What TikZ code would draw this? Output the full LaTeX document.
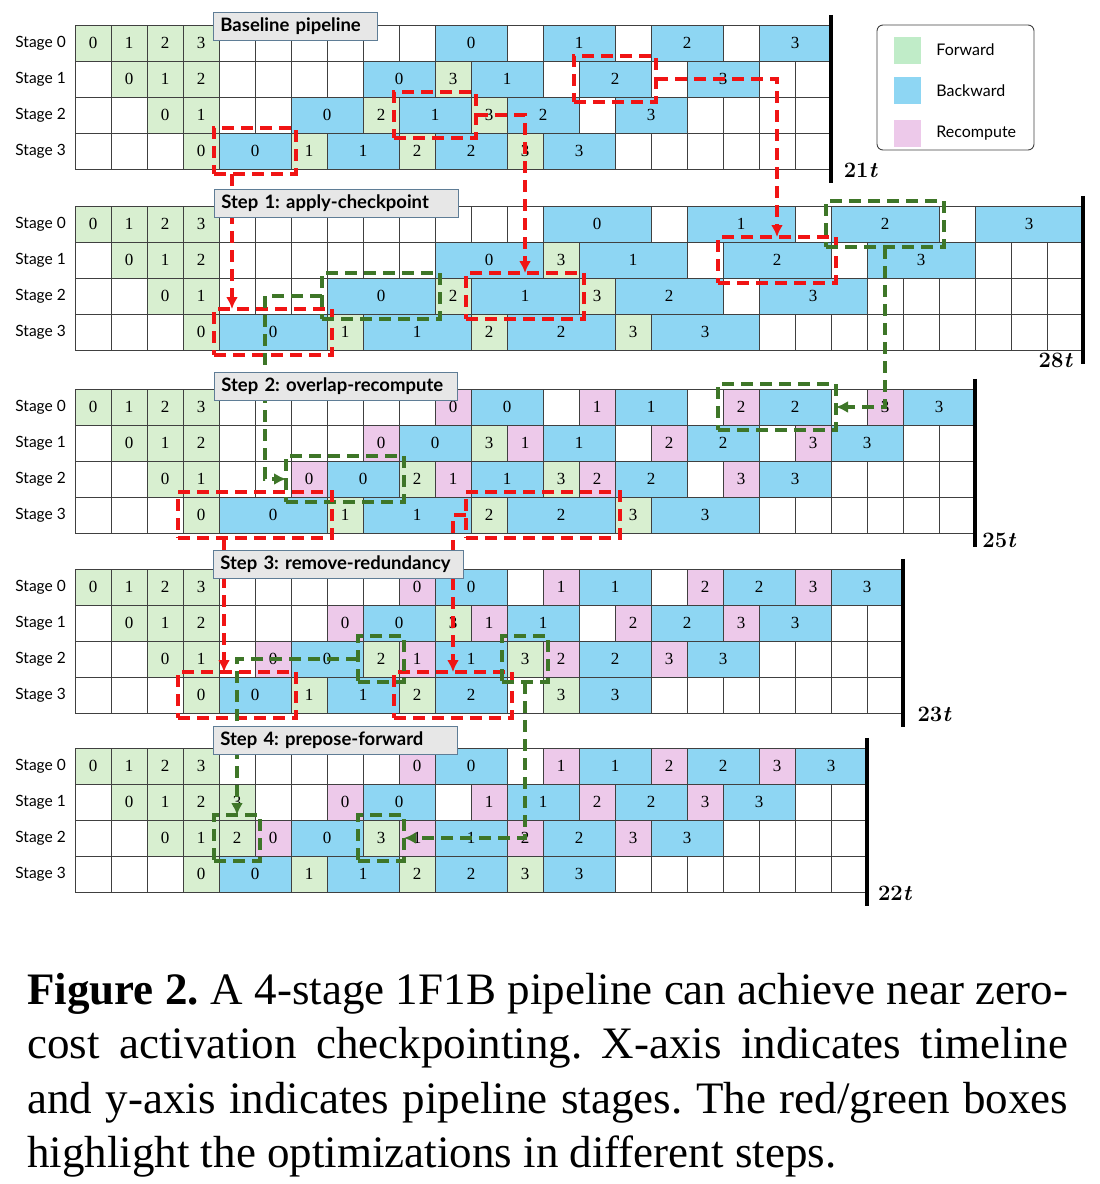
\documentclass[tikz,border=0pt]{standalone}
\usepackage{fontspec}
\setsansfont{Lato}
\newfontfamily\numfont{Liberation Serif}
\usetikzlibrary{arrows.meta,positioning,fit}
\frenchspacing

\definecolor{fwdgreen}{RGB}{216,239,208}
\definecolor{bwdblue}{RGB}{142,214,243}
\definecolor{rcppink}{RGB}{237,201,234}
\definecolor{legfwd}{RGB}{192,236,200}
\definecolor{gridgray}{RGB}{64,64,64}
\definecolor{titlegray}{RGB}{231,231,231}
\definecolor{titleedge}{RGB}{95,125,150}
\definecolor{dashred}{RGB}{240,20,20}
\definecolor{dashgreen}{RGB}{62,118,40}

\begin{document}
\begin{tikzpicture}[
  font=\sffamily,
  x=1pt, y=-1pt,
  cell/.style={draw=gridgray, line width=0.8pt, step=36pt},
  fwd/.style={draw=gridgray, line width=0.8pt, fill=fwdgreen, minimum width=36pt, minimum height=36pt, inner sep=0pt, outer sep=0pt, font=\numfont\fontsize{17}{19}\selectfont},
  bwd/.style={fwd, fill=bwdblue, minimum width=72pt},
  bwdck/.style={fwd, fill=bwdblue, minimum width=108pt},
  rcp/.style={fwd, fill=rcppink},
  stagelbl/.style={anchor=east, inner sep=0pt, font=\sffamily\fontsize{15.5}{18}\selectfont},
  title/.style={draw=titleedge, fill=titlegray, line width=0.8pt, anchor=west, minimum height=28pt, inner xsep=7pt, inner ysep=0pt, align=left, font=\sffamily\bfseries\fontsize{18.5}{21}\selectfont},
  redbox/.style={draw=dashred, line width=3.3pt, dash pattern=on 12pt off 7pt, inner sep=5pt, outer sep=0pt},
  grnbox/.style={redbox, draw=dashgreen},
  redarrow/.style={draw=dashred, line width=3.3pt, dash pattern=on 12pt off 7pt, -{Latex[length=12pt,width=12pt]}},
  grnarrow/.style={redarrow, draw=dashgreen},
  endbar/.style={line width=3.6pt},
  total/.style={inner sep=0pt, font=\rmfamily\bfseries\fontsize{22}{24}\selectfont},
  legbox/.style={draw=gridgray, line width=0.9pt, rounded corners=6pt, minimum width=157pt, minimum height=125pt},
  legkey/.style={minimum width=27pt, minimum height=27pt, inner sep=0pt},
  legtext/.style={inner sep=0pt, font=\sffamily\fontsize{16}{18}\selectfont}
]
\useasboundingbox (0,0) rectangle (1100,1184);

% baseline pipeline
\begin{scope}[x=36pt, y=-36pt, shift={(75pt,-25pt)}]
  \draw[cell] (0,0) grid (21,4);
  \node[stagelbl] (bl-l0) at (-0.25,0.5) {Stage 0};
  \node[stagelbl] (bl-l1) at (-0.25,1.5) {Stage 1};
  \node[stagelbl] (bl-l2) at (-0.25,2.5) {Stage 2};
  \node[stagelbl] (bl-l3) at (-0.25,3.5) {Stage 3};

  \node[fwd] (bl-s0-f0) at (0.5,0.5) {0};
  \node[fwd] (bl-s0-f1) at (1.5,0.5) {1};
  \node[fwd] (bl-s0-f2) at (2.5,0.5) {2};
  \node[fwd] (bl-s0-f3) at (3.5,0.5) {3};
  \node[bwd] (bl-s0-b0) at (11,0.5) {0};
  \node[bwd] (bl-s0-b1) at (14,0.5) {1};
  \node[bwd] (bl-s0-b2) at (17,0.5) {2};
  \node[bwd] (bl-s0-b3) at (20,0.5) {3};

  \node[fwd] (bl-s1-f0) at (1.5,1.5) {0};
  \node[fwd] (bl-s1-f1) at (2.5,1.5) {1};
  \node[fwd] (bl-s1-f2) at (3.5,1.5) {2};
  \node[bwd] (bl-s1-b0) at (9,1.5) {0};
  \node[fwd] (bl-s1-f3) at (10.5,1.5) {3};
  \node[bwd] (bl-s1-b1) at (12,1.5) {1};
  \node[bwd] (bl-s1-b2) at (15,1.5) {2};
  \node[bwd] (bl-s1-b3) at (18,1.5) {3};

  \node[fwd] (bl-s2-f0) at (2.5,2.5) {0};
  \node[fwd] (bl-s2-f1) at (3.5,2.5) {1};
  \node[bwd] (bl-s2-b0) at (7,2.5) {0};
  \node[fwd] (bl-s2-f2) at (8.5,2.5) {2};
  \node[bwd] (bl-s2-b1) at (10,2.5) {1};
  \node[fwd] (bl-s2-f3) at (11.5,2.5) {3};
  \node[bwd] (bl-s2-b2) at (13,2.5) {2};
  \node[bwd] (bl-s2-b3) at (16,2.5) {3};

  \node[fwd] (bl-s3-f0) at (3.5,3.5) {0};
  \node[bwd] (bl-s3-b0) at (5,3.5) {0};
  \node[fwd] (bl-s3-f1) at (6.5,3.5) {1};
  \node[bwd] (bl-s3-b1) at (8,3.5) {1};
  \node[fwd] (bl-s3-f2) at (9.5,3.5) {2};
  \node[bwd] (bl-s3-b2) at (11,3.5) {2};
  \node[fwd] (bl-s3-f3) at (12.5,3.5) {3};
  \node[bwd] (bl-s3-b3) at (14,3.5) {3};

  \draw[endbar] (21,-0.28) -- (21,4.4);
  \node[total, anchor=west] (bl-total) at (21.35,4.05) {21\textit{t}};
\end{scope}

% step 1: apply-checkpoint
\begin{scope}[x=36pt, y=-36pt, shift={(75pt,-206pt)}]
  \draw[cell] (0,0) grid (28,4);
  \node[stagelbl] (ck-l0) at (-0.25,0.5) {Stage 0};
  \node[stagelbl] (ck-l1) at (-0.25,1.5) {Stage 1};
  \node[stagelbl] (ck-l2) at (-0.25,2.5) {Stage 2};
  \node[stagelbl] (ck-l3) at (-0.25,3.5) {Stage 3};

  \node[fwd] (ck-s0-f0) at (0.5,0.5) {0};
  \node[fwd] (ck-s0-f1) at (1.5,0.5) {1};
  \node[fwd] (ck-s0-f2) at (2.5,0.5) {2};
  \node[fwd] (ck-s0-f3) at (3.5,0.5) {3};
  \node[bwdck] (ck-s0-b0) at (14.5,0.5) {0};
  \node[bwdck] (ck-s0-b1) at (18.5,0.5) {1};
  \node[bwdck] (ck-s0-b2) at (22.5,0.5) {2};
  \node[bwdck] (ck-s0-b3) at (26.5,0.5) {3};

  \node[fwd] (ck-s1-f0) at (1.5,1.5) {0};
  \node[fwd] (ck-s1-f1) at (2.5,1.5) {1};
  \node[fwd] (ck-s1-f2) at (3.5,1.5) {2};
  \node[bwdck] (ck-s1-b0) at (11.5,1.5) {0};
  \node[fwd] (ck-s1-f3) at (13.5,1.5) {3};
  \node[bwdck] (ck-s1-b1) at (15.5,1.5) {1};
  \node[bwdck] (ck-s1-b2) at (19.5,1.5) {2};
  \node[bwdck] (ck-s1-b3) at (23.5,1.5) {3};

  \node[fwd] (ck-s2-f0) at (2.5,2.5) {0};
  \node[fwd] (ck-s2-f1) at (3.5,2.5) {1};
  \node[bwdck] (ck-s2-b0) at (8.5,2.5) {0};
  \node[fwd] (ck-s2-f2) at (10.5,2.5) {2};
  \node[bwdck] (ck-s2-b1) at (12.5,2.5) {1};
  \node[fwd] (ck-s2-f3) at (14.5,2.5) {3};
  \node[bwdck] (ck-s2-b2) at (16.5,2.5) {2};
  \node[bwdck] (ck-s2-b3) at (20.5,2.5) {3};

  \node[fwd] (ck-s3-f0) at (3.5,3.5) {0};
  \node[bwdck] (ck-s3-b0) at (5.5,3.5) {0};
  \node[fwd] (ck-s3-f1) at (7.5,3.5) {1};
  \node[bwdck] (ck-s3-b1) at (9.5,3.5) {1};
  \node[fwd] (ck-s3-f2) at (11.5,3.5) {2};
  \node[bwdck] (ck-s3-b2) at (13.5,3.5) {2};
  \node[fwd] (ck-s3-f3) at (15.5,3.5) {3};
  \node[bwdck] (ck-s3-b3) at (17.5,3.5) {3};

  \draw[endbar] (28,-0.28) -- (28,4.4);
  \node[total, anchor=east] (ck-total) at (27.72,4.3) {28\textit{t}};
\end{scope}

% step 2: overlap-recompute
\begin{scope}[x=36pt, y=-36pt, shift={(75pt,-389pt)}]
  \draw[cell] (0,0) grid (25,4);
  \node[stagelbl] (ov-l0) at (-0.25,0.5) {Stage 0};
  \node[stagelbl] (ov-l1) at (-0.25,1.5) {Stage 1};
  \node[stagelbl] (ov-l2) at (-0.25,2.5) {Stage 2};
  \node[stagelbl] (ov-l3) at (-0.25,3.5) {Stage 3};

  \node[fwd] (ov-s0-f0) at (0.5,0.5) {0};
  \node[fwd] (ov-s0-f1) at (1.5,0.5) {1};
  \node[fwd] (ov-s0-f2) at (2.5,0.5) {2};
  \node[fwd] (ov-s0-f3) at (3.5,0.5) {3};
  \node[rcp] (ov-s0-r0) at (10.5,0.5) {0};
  \node[bwd] (ov-s0-b0) at (12,0.5) {0};
  \node[rcp] (ov-s0-r1) at (14.5,0.5) {1};
  \node[bwd] (ov-s0-b1) at (16,0.5) {1};
  \node[rcp] (ov-s0-r2) at (18.5,0.5) {2};
  \node[bwd] (ov-s0-b2) at (20,0.5) {2};
  \node[rcp] (ov-s0-r3) at (22.5,0.5) {3};
  \node[bwd] (ov-s0-b3) at (24,0.5) {3};

  \node[fwd] (ov-s1-f0) at (1.5,1.5) {0};
  \node[fwd] (ov-s1-f1) at (2.5,1.5) {1};
  \node[fwd] (ov-s1-f2) at (3.5,1.5) {2};
  \node[rcp] (ov-s1-r0) at (8.5,1.5) {0};
  \node[bwd] (ov-s1-b0) at (10,1.5) {0};
  \node[fwd] (ov-s1-f3) at (11.5,1.5) {3};
  \node[rcp] (ov-s1-r1) at (12.5,1.5) {1};
  \node[bwd] (ov-s1-b1) at (14,1.5) {1};
  \node[rcp] (ov-s1-r2) at (16.5,1.5) {2};
  \node[bwd] (ov-s1-b2) at (18,1.5) {2};
  \node[rcp] (ov-s1-r3) at (20.5,1.5) {3};
  \node[bwd] (ov-s1-b3) at (22,1.5) {3};

  \node[fwd] (ov-s2-f0) at (2.5,2.5) {0};
  \node[fwd] (ov-s2-f1) at (3.5,2.5) {1};
  \node[rcp] (ov-s2-r0) at (6.5,2.5) {0};
  \node[bwd] (ov-s2-b0) at (8,2.5) {0};
  \node[fwd] (ov-s2-f2) at (9.5,2.5) {2};
  \node[rcp] (ov-s2-r1) at (10.5,2.5) {1};
  \node[bwd] (ov-s2-b1) at (12,2.5) {1};
  \node[fwd] (ov-s2-f3) at (13.5,2.5) {3};
  \node[rcp] (ov-s2-r2) at (14.5,2.5) {2};
  \node[bwd] (ov-s2-b2) at (16,2.5) {2};
  \node[rcp] (ov-s2-r3) at (18.5,2.5) {3};
  \node[bwd] (ov-s2-b3) at (20,2.5) {3};

  \node[fwd] (ov-s3-f0) at (3.5,3.5) {0};
  \node[bwdck] (ov-s3-b0) at (5.5,3.5) {0};
  \node[fwd] (ov-s3-f1) at (7.5,3.5) {1};
  \node[bwdck] (ov-s3-b1) at (9.5,3.5) {1};
  \node[fwd] (ov-s3-f2) at (11.5,3.5) {2};
  \node[bwdck] (ov-s3-b2) at (13.5,3.5) {2};
  \node[fwd] (ov-s3-f3) at (15.5,3.5) {3};
  \node[bwdck] (ov-s3-b3) at (17.5,3.5) {3};

  \draw[endbar] (25,-0.28) -- (25,4.4);
  \node[total, anchor=west] (ov-total) at (25.2,4.2) {25\textit{t}};
\end{scope}

% step 3: remove-redundancy
\begin{scope}[x=36pt, y=-36pt, shift={(75pt,-569pt)}]
  \draw[cell] (0,0) grid (23,4);
  \node[stagelbl] (rr-l0) at (-0.25,0.5) {Stage 0};
  \node[stagelbl] (rr-l1) at (-0.25,1.5) {Stage 1};
  \node[stagelbl] (rr-l2) at (-0.25,2.5) {Stage 2};
  \node[stagelbl] (rr-l3) at (-0.25,3.5) {Stage 3};

  \node[fwd] (rr-s0-f0) at (0.5,0.5) {0};
  \node[fwd] (rr-s0-f1) at (1.5,0.5) {1};
  \node[fwd] (rr-s0-f2) at (2.5,0.5) {2};
  \node[fwd] (rr-s0-f3) at (3.5,0.5) {3};
  \node[rcp] (rr-s0-r0) at (9.5,0.5) {0};
  \node[bwd] (rr-s0-b0) at (11,0.5) {0};
  \node[rcp] (rr-s0-r1) at (13.5,0.5) {1};
  \node[bwd] (rr-s0-b1) at (15,0.5) {1};
  \node[rcp] (rr-s0-r2) at (17.5,0.5) {2};
  \node[bwd] (rr-s0-b2) at (19,0.5) {2};
  \node[rcp] (rr-s0-r3) at (20.5,0.5) {3};
  \node[bwd] (rr-s0-b3) at (22,0.5) {3};

  \node[fwd] (rr-s1-f0) at (1.5,1.5) {0};
  \node[fwd] (rr-s1-f1) at (2.5,1.5) {1};
  \node[fwd] (rr-s1-f2) at (3.5,1.5) {2};
  \node[rcp] (rr-s1-r0) at (7.5,1.5) {0};
  \node[bwd] (rr-s1-b0) at (9,1.5) {0};
  \node[fwd] (rr-s1-f3) at (10.5,1.5) {3};
  \node[rcp] (rr-s1-r1) at (11.5,1.5) {1};
  \node[bwd] (rr-s1-b1) at (13,1.5) {1};
  \node[rcp] (rr-s1-r2) at (15.5,1.5) {2};
  \node[bwd] (rr-s1-b2) at (17,1.5) {2};
  \node[rcp] (rr-s1-r3) at (18.5,1.5) {3};
  \node[bwd] (rr-s1-b3) at (20,1.5) {3};

  \node[fwd] (rr-s2-f0) at (2.5,2.5) {0};
  \node[fwd] (rr-s2-f1) at (3.5,2.5) {1};
  \node[rcp] (rr-s2-r0) at (5.5,2.5) {0};
  \node[bwd] (rr-s2-b0) at (7,2.5) {0};
  \node[fwd] (rr-s2-f2) at (8.5,2.5) {2};
  \node[rcp] (rr-s2-r1) at (9.5,2.5) {1};
  \node[bwd] (rr-s2-b1) at (11,2.5) {1};
  \node[fwd] (rr-s2-f3) at (12.5,2.5) {3};
  \node[rcp] (rr-s2-r2) at (13.5,2.5) {2};
  \node[bwd] (rr-s2-b2) at (15,2.5) {2};
  \node[rcp] (rr-s2-r3) at (16.5,2.5) {3};
  \node[bwd] (rr-s2-b3) at (18,2.5) {3};

  \node[fwd] (rr-s3-f0) at (3.5,3.5) {0};
  \node[bwd] (rr-s3-b0) at (5,3.5) {0};
  \node[fwd] (rr-s3-f1) at (6.5,3.5) {1};
  \node[bwd] (rr-s3-b1) at (8,3.5) {1};
  \node[fwd] (rr-s3-f2) at (9.5,3.5) {2};
  \node[bwd] (rr-s3-b2) at (11,3.5) {2};
  \node[fwd] (rr-s3-f3) at (13.5,3.5) {3};
  \node[bwd] (rr-s3-b3) at (15,3.5) {3};

  \draw[endbar] (23,-0.28) -- (23,4.4);
  \node[total, anchor=west] (rr-total) at (23.4,4.05) {23\textit{t}};
\end{scope}

% step 4: prepose-forward
\begin{scope}[x=36pt, y=-36pt, shift={(75pt,-748pt)}]
  \draw[cell] (0,0) grid (22,4);
  \node[stagelbl] (pf-l0) at (-0.25,0.5) {Stage 0};
  \node[stagelbl] (pf-l1) at (-0.25,1.5) {Stage 1};
  \node[stagelbl] (pf-l2) at (-0.25,2.5) {Stage 2};
  \node[stagelbl] (pf-l3) at (-0.25,3.5) {Stage 3};

  \node[fwd] (pf-s0-f0) at (0.5,0.5) {0};
  \node[fwd] (pf-s0-f1) at (1.5,0.5) {1};
  \node[fwd] (pf-s0-f2) at (2.5,0.5) {2};
  \node[fwd] (pf-s0-f3) at (3.5,0.5) {3};
  \node[rcp] (pf-s0-r0) at (9.5,0.5) {0};
  \node[bwd] (pf-s0-b0) at (11,0.5) {0};
  \node[rcp] (pf-s0-r1) at (13.5,0.5) {1};
  \node[bwd] (pf-s0-b1) at (15,0.5) {1};
  \node[rcp] (pf-s0-r2) at (16.5,0.5) {2};
  \node[bwd] (pf-s0-b2) at (18,0.5) {2};
  \node[rcp] (pf-s0-r3) at (19.5,0.5) {3};
  \node[bwd] (pf-s0-b3) at (21,0.5) {3};

  \node[fwd] (pf-s1-f0) at (1.5,1.5) {0};
  \node[fwd] (pf-s1-f1) at (2.5,1.5) {1};
  \node[fwd] (pf-s1-f2) at (3.5,1.5) {2};
  \node[fwd] (pf-s1-f3) at (4.5,1.5) {3};
  \node[rcp] (pf-s1-r0) at (7.5,1.5) {0};
  \node[bwd] (pf-s1-b0) at (9,1.5) {0};
  \node[rcp] (pf-s1-r1) at (11.5,1.5) {1};
  \node[bwd] (pf-s1-b1) at (13,1.5) {1};
  \node[rcp] (pf-s1-r2) at (14.5,1.5) {2};
  \node[bwd] (pf-s1-b2) at (16,1.5) {2};
  \node[rcp] (pf-s1-r3) at (17.5,1.5) {3};
  \node[bwd] (pf-s1-b3) at (19,1.5) {3};

  \node[fwd] (pf-s2-f0) at (2.5,2.5) {0};
  \node[fwd] (pf-s2-f1) at (3.5,2.5) {1};
  \node[fwd] (pf-s2-f2) at (4.5,2.5) {2};
  \node[rcp] (pf-s2-r0) at (5.5,2.5) {0};
  \node[bwd] (pf-s2-b0) at (7,2.5) {0};
  \node[fwd] (pf-s2-f3) at (8.5,2.5) {3};
  \node[rcp] (pf-s2-r1) at (9.5,2.5) {1};
  \node[bwd] (pf-s2-b1) at (11,2.5) {1};
  \node[rcp] (pf-s2-r2) at (12.5,2.5) {2};
  \node[bwd] (pf-s2-b2) at (14,2.5) {2};
  \node[rcp] (pf-s2-r3) at (15.5,2.5) {3};
  \node[bwd] (pf-s2-b3) at (17,2.5) {3};

  \node[fwd] (pf-s3-f0) at (3.5,3.5) {0};
  \node[bwd] (pf-s3-b0) at (5,3.5) {0};
  \node[fwd] (pf-s3-f1) at (6.5,3.5) {1};
  \node[bwd] (pf-s3-b1) at (8,3.5) {1};
  \node[fwd] (pf-s3-f2) at (9.5,3.5) {2};
  \node[bwd] (pf-s3-b2) at (11,3.5) {2};
  \node[fwd] (pf-s3-f3) at (12.5,3.5) {3};
  \node[bwd] (pf-s3-b3) at (14,3.5) {3};

  \draw[endbar] (22,-0.28) -- (22,4.4);
  \node[total, anchor=west] (pf-total) at (22.3,4.05) {22\textit{t}};
\end{scope}

% highlight boxes
\node[redbox, fit=(bl-s3-b0)] (bl-red1) {};
\node[redbox, fit=(bl-s2-b1)] (bl-red2) {};
\node[redbox, fit=(bl-s1-b2)] (bl-red3) {};
\node[redbox, fit=(ck-s3-b0)] (ck-red1) {};
\node[redbox, fit=(ck-s2-b1)] (ck-red2) {};
\node[redbox, fit=(ck-s1-b2)] (ck-red3) {};
\node[grnbox, fit=(ck-s2-b0)] (ck-grn1) {};
\node[grnbox, fit=(ck-s0-b2)] (ck-grn2) {};
\node[grnbox, fit=(ov-s2-r0) (ov-s2-b0)] (ov-grn1) {};
\node[grnbox, fit=(ov-s0-r2) (ov-s0-b2)] (ov-grn2) {};
\node[redbox, fit=(ov-s3-f0) (ov-s3-b0)] (ov-red1) {};
\node[redbox, fit=(ov-s3-f2) (ov-s3-b2)] (ov-red2) {};
\node[redbox, fit=(rr-s3-f0) (rr-s3-b0)] (rr-red1) {};
\node[redbox, fit=(rr-s3-f2) (rr-s3-b2)] (rr-red2) {};
\node[grnbox, fit=(rr-s2-f2)] (rr-grn1) {};
\node[grnbox, fit=(rr-s2-f3)] (rr-grn2) {};
\node[grnbox, fit=(pf-s2-f2)] (pf-grn1) {};
\node[grnbox, fit=(pf-s2-f3)] (pf-grn2) {};

% moves from one step to the next
\coordinate (bl-drop1) at ([xshift=18pt]bl-red1.south west);
\coordinate (ov-drop1) at ([xshift=46pt]ov-red1.south west);
\draw[redarrow] (bl-drop1) -- (bl-drop1 |- ck-red1.north);
\draw[redarrow] (bl-red2.east) -| (ck-red2.north);
\draw[redarrow] (bl-red3.east) -| (ck-red3.north);
\draw[grnarrow] (ck-grn1.west) -- ++(-57pt,0) |- (ov-grn1.west);
\draw[grnarrow] (ck-grn2.south) |- (ov-grn2.east);
\draw[redarrow] (ov-drop1) -- (ov-drop1 |- rr-red1.north);
\draw[redarrow] (ov-red2.west) -| (rr-red2.north);
\draw[grnarrow] (rr-grn1.west) -| (pf-grn1.north);
\draw[grnarrow] (rr-grn2.south) |- (pf-grn2.east);

% step titles
\node[title, text width=150pt] (bl-title) at (213,26.5) {Baseline pipeline};
\node[title, text width=230pt] (ck-title) at (214,203) {Step 1: apply-checkpoint};
\node[title, text width=229pt] (ov-title) at (214,386.5) {Step 2: overlap-recompute};
\node[title, text width=236pt] (rr-title) at (213,564) {Step 3: remove-redundancy};
\node[title, text width=230pt] (pf-title) at (213,740.5) {Step 4: prepose-forward};

% legend
\node[legbox] (legend) at (955.5,87.5) {};
\node[legkey, fill=legfwd] (leg-fwd) at (907.5,50) {};
\node[legkey, fill=bwdblue] (leg-bwd) at (907.5,90.5) {};
\node[legkey, fill=rcppink] (leg-rcp) at (907.5,133) {};
\node[legtext, right=15pt of leg-fwd] (leg-fwd-txt) {Forward};
\node[legtext, right=15pt of leg-bwd] (leg-bwd-txt) {Backward};
\node[legtext, right=15pt of leg-rcp] (leg-rcp-txt) {Recompute};

% caption
\node[anchor=north west, inner sep=0pt, text width=1041pt, align=justify, font=\numfont\fontsize{45}{54.5}\selectfont] (caption) at (27,973) {\textbf{Figure 2.} A 4-stage 1F1B pipeline can achieve near zero-\linebreak cost activation checkpointing. X-axis indicates timeline\linebreak and y-axis indicates pipeline stages. The red/green boxes\linebreak highlight the optimizations in different steps.};
\end{tikzpicture}
\end{document}
